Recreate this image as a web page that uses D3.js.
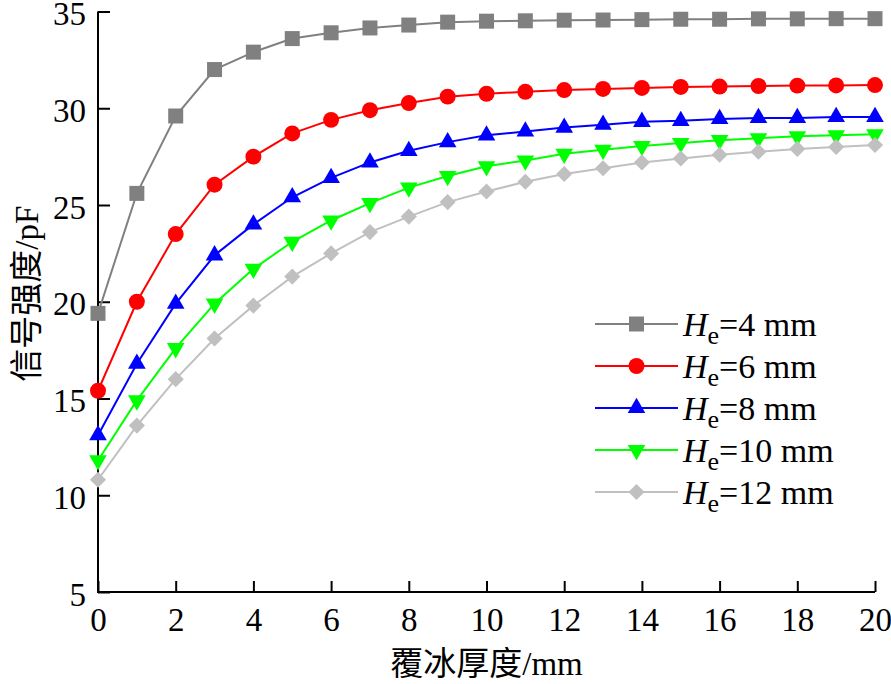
<!DOCTYPE html>
<html>
<head>
<meta charset="utf-8">
<script src="https://cdn.jsdelivr.net/npm/d3@7"></script>
<style>
  html, body { margin: 0; padding: 0; background: #fff; }
  svg { display: block; }
  text { font-family: "Liberation Serif", "Times New Roman", "Noto Sans CJK SC", serif; fill: #000; }
</style>
</head>
<body>
<svg id="chart" width="891" height="684"></svg>
<script>
// ---- data ----
const thickness = [0,1,2,3,4,5,6,7,8,9,10,11,12,13,14,15,16,17,18,19,20];
const seriesNames = ["4", "6", "8", "10", "12"];
const he4  = [19.4,25.6,29.6,32.0,32.9,33.6,33.9,34.15,34.3,34.45,34.5,34.52,34.55,34.56,34.58,34.6,34.6,34.62,34.62,34.63,34.63];
const he6  = [15.4,20.0,23.5,26.05,27.5,28.7,29.4,29.9,30.27,30.6,30.75,30.85,30.94,31.0,31.05,31.1,31.12,31.15,31.17,31.18,31.2];
const he8  = [13.1,16.8,19.9,22.4,24.0,25.4,26.4,27.2,27.8,28.25,28.6,28.8,29.0,29.15,29.3,29.35,29.45,29.5,29.5,29.55,29.55];
const he10 = [11.8,14.9,17.6,19.9,21.7,23.1,24.2,25.1,25.9,26.5,27.0,27.3,27.65,27.85,28.05,28.2,28.35,28.45,28.55,28.6,28.65];
const he12 = [10.8,13.6,16.0,18.1,19.8,21.3,22.5,23.6,24.4,25.15,25.7,26.2,26.6,26.9,27.2,27.4,27.6,27.75,27.9,28.0,28.1];
const xTicks = [0,2,4,6,8,10,12,14,16,18,20];
const yTicks = [5,10,15,20,25,30,35];
const xLabel = "覆冰厚度/mm";
const yLabel = "信号强度/pF";

const colors = ["#808080", "#ff0000", "#0000ff", "#00ff00", "#c0c0c0"];
const allValues = [he4, he6, he8, he10, he12];

// ---- layout ----
const svg = d3.select("#chart");
const margin = {left: 98, right: 16, top: 11.5, bottom: 92};
const W = 891, H = 684;
const x = d3.scaleLinear().domain([0, 20]).range([margin.left, W - margin.right]);
const y = d3.scaleLinear().domain([5, 35]).range([H - margin.bottom, margin.top]);

// marker generators
const markers = [
  {type: d3.symbolSquare, size: 225, rot: 0},
  {type: d3.symbolCircle, size: 200, rot: 0},
  {type: d3.symbolTriangle, size: 135, rot: 0},
  {type: d3.symbolTriangle, size: 135, rot: 180},
  {type: d3.symbolSquare, size: 130, rot: 45}
];

// ---- axes ----
const xAxis = d3.axisBottom(x).tickValues(xTicks).tickSizeInner(-11).tickSizeOuter(0).tickPadding(16);
const yAxis = d3.axisLeft(y).tickValues(yTicks).tickSizeInner(-12).tickSizeOuter(0).tickPadding(12);

const gx = svg.append("g").attr("transform", `translate(0,${y(5)})`).call(xAxis);
const gy = svg.append("g").attr("transform", `translate(${x(0)},0)`).call(yAxis);
[gx, gy].forEach(g => {
  g.select(".domain").attr("stroke", "#000").attr("stroke-width", 2);
  g.selectAll(".tick line").attr("stroke", "#000").attr("stroke-width", 2);
  g.selectAll(".tick text").attr("font-size", 33).attr("fill", "#000")
    .attr("font-family", '"Liberation Serif", "Times New Roman", serif');
});
gx.selectAll(".tick text").attr("dy", "0.71em");
gy.selectAll(".tick text").attr("dy", "0.4em");
// extend x-axis domain to include y-axis
gx.select(".domain").attr("d", `M${x(0)-1},0H${x(20)}`);
gy.select(".domain").attr("d", `M0,${y(5)+1}V${y(35)}`);

// ---- series ----
const line = d3.line().x((d, i) => x(thickness[i])).y(d => y(d));
allValues.forEach((vals, si) => {
  const g = svg.append("g");
  g.append("path").datum(vals).attr("d", line)
    .attr("fill", "none").attr("stroke", colors[si]).attr("stroke-width", 2);
  const m = markers[si];
  g.selectAll("path.m").data(vals).join("path").attr("class", "m")
    .attr("d", d3.symbol().type(m.type).size(m.size)())
    .attr("transform", (d, i) => `translate(${x(thickness[i])},${y(d)}) rotate(${m.rot})`)
    .attr("fill", colors[si]);
});

// ---- legend ----
const legend = svg.append("g");
const legX0 = 595, legX1 = 678, legY0 = 324, legDy = 42;
seriesNames.forEach((name, si) => {
  const ly = legY0 + si * legDy;
  legend.append("line").attr("x1", legX0).attr("x2", legX1).attr("y1", ly).attr("y2", ly)
    .attr("stroke", colors[si]).attr("stroke-width", 2);
  const m = markers[si];
  legend.append("path").attr("d", d3.symbol().type(m.type).size(m.size)())
    .attr("transform", `translate(${(legX0 + legX1) / 2},${ly}) rotate(${m.rot})`)
    .attr("fill", colors[si]);
  const t = legend.append("text").attr("x", 683).attr("y", ly + 12).attr("font-size", 34);
  t.append("tspan").attr("font-style", "italic").text("H");
  t.append("tspan").attr("font-size", 26).attr("dy", 8).text("e");
  t.append("tspan").attr("dy", -8).text("=" + name + " mm");
});

// ---- axis titles ----
svg.append("text").attr("x", x(10)).attr("y", 675).attr("text-anchor", "middle")
  .attr("font-size", 33).text(xLabel);
svg.append("text").attr("transform", `translate(38,${(y(5)+y(35))/2 - 8}) rotate(-90)`)
  .attr("text-anchor", "middle").attr("font-size", 33).text(yLabel);
</script>
</body>
</html>
